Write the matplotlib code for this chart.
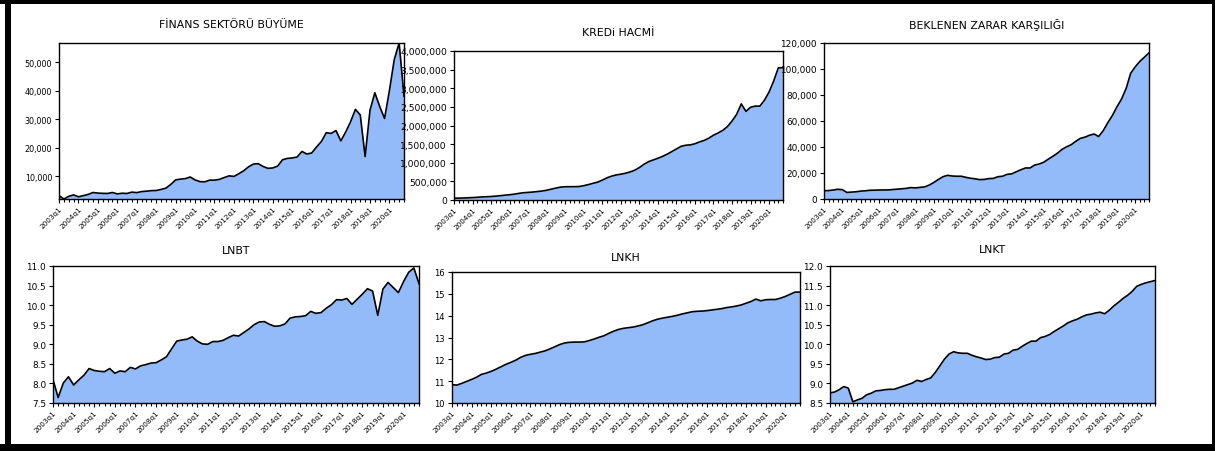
import numpy as np
import matplotlib
matplotlib.use("Agg")
import matplotlib.pyplot as plt
from matplotlib.patches import Rectangle
from matplotlib.ticker import FixedLocator, MultipleLocator, FuncFormatter
import matplotlib.transforms as mtransforms

# quarterly data 2003q1 - 2020q4 (72 obs)
quarters = [f"{y}q{q}" for y in range(2003, 2021) for q in range(1, 5)]
year_labels = [f"{y}q1" for y in range(2003, 2021)]

finans = [3290, 2080, 3010, 3530,
          2860, 3260, 3680, 4360,
          4150, 4060, 4020, 4360,
          3870, 4100, 4020, 4490,
          4320, 4680, 4820, 5010,
          5060, 5430, 5880, 7190,
          8780, 9050, 9230, 9800,
          8780, 8180, 8100, 8690,
          8690, 8960, 9600, 10200,
          10000, 10940, 11970, 13360,
          14330, 14470, 13490, 12840,
          12970, 13630, 15840, 16320,
          16480, 16810, 18770, 17860,
          18220, 20330, 22250, 25340,
          25080, 26110, 22470, 25590,
          29140, 33520, 31570, 16980,
          33190, 39340, 34540, 30330,
          40140, 51020, 56800, 38180]

kredi = [51000, 50000, 54000, 59000,
         65000, 72000, 82000, 87000,
         94000, 104000, 116000, 129000,
         142000, 156000, 178000, 195000,
         204000, 214000, 227000, 241000,
         262000, 292000, 320000, 346000,
         356000, 357000, 358000, 362000,
         384000, 414000, 448000, 480000,
         533000, 594000, 640000, 672000,
         693000, 718000, 753000, 800000,
         870000, 960000, 1030000, 1075000,
         1120000, 1170000, 1230000, 1300000,
         1370000, 1440000, 1470000, 1480000,
         1510000, 1560000, 1600000, 1660000,
         1740000, 1800000, 1870000, 1970000,
         2120000, 2300000, 2580000, 2380000,
         2490000, 2520000, 2520000, 2680000,
         2900000, 3200000, 3550000, 3550000]

beklenen = [6370, 6500, 6900, 7480,
            7190, 5060, 5320, 5540,
            6060, 6310, 6700, 6770,
            6900, 6970, 6970, 7260,
            7560, 7860, 8180, 8780,
            8520, 8960, 9320, 10720,
            12710, 15060, 17150, 18220,
            17680, 17500, 17500, 16650,
            15990, 15520, 14910, 15060,
            15680, 15840, 17150, 17500,
            18960, 19340, 20950, 22470,
            23860, 23860, 26110, 26900,
            28280, 30640, 32860, 35240,
            38180, 40140, 41770, 44360,
            46630, 47570, 49020, 50010,
            48050, 52570, 58690, 64220,
            70970, 76880, 84970, 96760,
            101720, 105870, 109100, 112420]

lnbt = [8.10, 7.64, 8.01, 8.17,
        7.96, 8.09, 8.21, 8.38,
        8.33, 8.31, 8.30, 8.38,
        8.26, 8.32, 8.30, 8.41,
        8.37, 8.45, 8.48, 8.52,
        8.53, 8.60, 8.68, 8.88,
        9.08, 9.11, 9.13, 9.19,
        9.08, 9.01, 9.00, 9.07,
        9.07, 9.10, 9.17, 9.23,
        9.21, 9.30, 9.39, 9.50,
        9.57, 9.58, 9.51, 9.46,
        9.47, 9.52, 9.67, 9.70,
        9.71, 9.73, 9.84, 9.79,
        9.81, 9.92, 10.01, 10.14,
        10.13, 10.17, 10.02, 10.15,
        10.28, 10.42, 10.36, 9.74,
        10.41, 10.58, 10.45, 10.32,
        10.60, 10.84, 10.95, 10.55]

lnkh = [10.84, 10.82, 10.90, 10.99,
        11.08, 11.18, 11.31, 11.37,
        11.45, 11.55, 11.66, 11.77,
        11.86, 11.96, 12.09, 12.18,
        12.23, 12.27, 12.33, 12.39,
        12.48, 12.58, 12.68, 12.75,
        12.78, 12.79, 12.79, 12.80,
        12.86, 12.93, 13.01, 13.08,
        13.19, 13.29, 13.37, 13.42,
        13.45, 13.48, 13.53, 13.59,
        13.68, 13.77, 13.84, 13.89,
        13.93, 13.97, 14.02, 14.08,
        14.13, 14.18, 14.20, 14.21,
        14.23, 14.26, 14.29, 14.32,
        14.37, 14.40, 14.44, 14.49,
        14.57, 14.65, 14.76, 14.68,
        14.73, 14.74, 14.74, 14.80,
        14.88, 14.98, 15.08, 15.08]

lnkt = [8.76, 8.78, 8.84, 8.92,
        8.88, 8.53, 8.58, 8.62,
        8.71, 8.75, 8.81, 8.82,
        8.84, 8.85, 8.85, 8.89,
        8.93, 8.97, 9.01, 9.08,
        9.05, 9.10, 9.14, 9.28,
        9.45, 9.62, 9.75, 9.81,
        9.78, 9.77, 9.77, 9.72,
        9.68, 9.65, 9.61, 9.62,
        9.66, 9.67, 9.75, 9.77,
        9.85, 9.87, 9.95, 10.02,
        10.08, 10.08, 10.17, 10.20,
        10.25, 10.33, 10.40, 10.47,
        10.55, 10.60, 10.64, 10.70,
        10.75, 10.77, 10.80, 10.82,
        10.78, 10.87, 10.98, 11.07,
        11.17, 11.25, 11.35, 11.48,
        11.53, 11.57, 11.60, 11.63]

W, H = 1215, 452
FILL = "#93BBF9"
plt.rcParams['font.family'] = ['DejaVu Sans']

fig = plt.figure(figsize=(W / 100, H / 100), dpi=100)
fig.patch.set_facecolor("white")


def px_axes(x0, y0, x1, y1):
    # axes from pixel box (top-left origin)
    return fig.add_axes([x0 / W, 1 - y1 / H, (x1 - x0) / W, (y1 - y0) / H])


def panel(box, values, title, ylim, ystep, fmt, ysize, title_off):
    ax = px_axes(*box)
    x = np.arange(len(values))
    lo, hi = ylim if ylim is not None else (min(values), max(values))
    ax.fill_between(x, values, lo, color=FILL, lw=0)
    ax.plot(x, values, color="black", lw=1.2)
    ax.set_xlim(0, len(values) - 1)
    ax.set_ylim(lo, hi)

    ax.xaxis.set_major_locator(FixedLocator(np.arange(0, len(values), 4)))
    ax.xaxis.set_minor_locator(MultipleLocator(1))
    ax.set_xticklabels(year_labels, rotation=45, ha="right",
                       rotation_mode="anchor", fontsize=5.2)
    ax.yaxis.set_major_locator(MultipleLocator(ystep))
    ax.yaxis.set_major_formatter(FuncFormatter(fmt))
    ax.tick_params(axis="y", labelsize=ysize, length=3, width=0.8, pad=2)
    ax.tick_params(axis="x", which="major", length=3, width=0.8, pad=1.5)
    ax.tick_params(axis="x", which="minor", length=1.8, width=0.8)
    for s in ax.spines.values():
        s.set_linewidth(1.0)

    tr = mtransforms.offset_copy(ax.transAxes, fig=fig, y=title_off, units="dots")
    ax.text(0.5, 1.0, title, transform=tr, ha="center", va="center", fontsize=7.8)
    return ax


thousands = lambda v, p: f"{v:,.0f}"
onedec = lambda v, p: f"{v:.1f}"
integer = lambda v, p: f"{v:.0f}"

# top row
panel((59, 44, 404, 200), finans, "FİNANS SEKTÖRÜ BÜYÜME", None, 10000, thousands, 5.8, 19)
panel((454, 52, 783, 201), kredi, "KREDi HACMİ", (0, 4000000), 500000, thousands, 6.6, 19)
panel((824, 44, 1149, 200), beklenen, "BEKLENEN ZARAR KARŞILIĞI", (0, 120000), 20000, thousands, 6.4, 19)

# bottom row
panel((53, 267, 419, 404), lnbt, "LNBT", (7.5, 11.0), 0.5, onedec, 6.4, 16)
panel((452, 273, 800, 404), lnkh, "LNKH", (10, 16), 1, integer, 6.0, 15)
panel((830, 267, 1155, 404), lnkt, "LNKT", (8.5, 12.0), 0.5, onedec, 6.4, 17)

# black frame around the picture
for (x0, y0, x1, y1) in [(0, 0, W, 5), (5, 0, 11, H), (1212, 0, W, H), (0, 445, W, H)]:
    fig.add_artist(Rectangle((x0 / W, 1 - y1 / H), (x1 - x0) / W, (y1 - y0) / H,
                             transform=fig.transFigure, color="black", lw=0, zorder=10))

fig.savefig("out.png", dpi=100)
